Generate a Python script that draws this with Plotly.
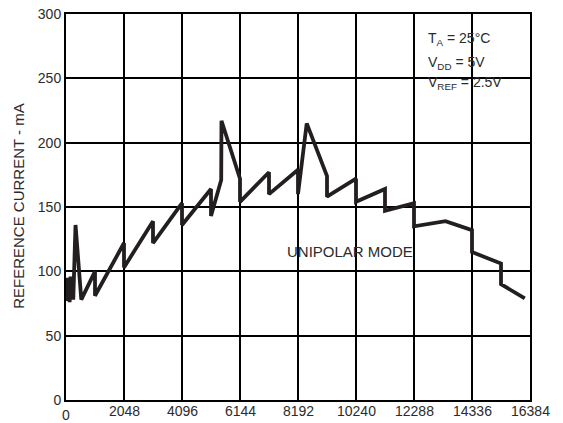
import plotly.graph_objects as go

# Digital input code (x) and reference current in mA (y)
codes = [0, 32, 64, 96, 128, 160, 192, 224, 256, 336, 540,
         1024, 1024, 2048, 2048, 3072, 3072, 4096, 4096, 5120, 5120,
         5480, 5490, 6144, 6144, 7168, 7168, 8192, 8192, 8500,
         9216, 9216, 10240, 10240, 11264, 11264, 12288, 12288,
         13400, 14336, 14336, 15360, 15360, 16200]
current_ma = [80, 95, 77, 94, 76, 96, 78, 95, 78, 136, 78,
              100, 81, 122, 103, 139, 122, 153, 136, 164, 143,
              171, 217, 172, 154, 177, 160, 179, 160, 215,
              174, 158, 172, 154, 164, 147, 153, 135,
              139, 132, 115, 106, 90, 79]

x_ticks = [0, 2048, 4096, 6144, 8192, 10240, 12288, 14336, 16384]
x_tick_labels = ["0", "2048", "4096", "6144", "8192", "10240", "12288", "14336", "16384"]
y_ticks = [0, 50, 100, 150, 200, 250, 300]

font_family = "Liberation Sans, Arial, sans-serif"
text_color = "#2b2b2b"

fig = go.Figure()
fig.add_trace(go.Scatter(
    x=codes, y=current_ma, mode="lines",
    line=dict(color="#231f20", width=3.8),
    showlegend=False, hoverinfo="skip",
))

fig.update_layout(
    width=563, height=423, autosize=False,
    margin=dict(l=66, r=33, t=14, b=23),
    paper_bgcolor="white", plot_bgcolor="white",
    font=dict(family=font_family, size=14, color=text_color),
    xaxis=dict(
        range=[0, 16384], tickvals=x_ticks,
        showgrid=True, gridcolor="black", gridwidth=2,
        showline=True, linecolor="black", linewidth=2, mirror=True,
        ticks="", zeroline=False, automargin=False, showticklabels=False,
    ),
    yaxis=dict(
        range=[0, 300], tickvals=y_ticks,
        showgrid=True, gridcolor="black", gridwidth=2,
        showline=True, linecolor="black", linewidth=2, mirror=True,
        ticks="", zeroline=False, automargin=False,
        tickfont=dict(size=14, color=text_color),
    ),
)

# x tick labels ("0" a bit lower than the others)
for val, lab in zip(x_ticks, x_tick_labels):
    fig.add_annotation(x=val, y=0, xref="x", yref="y", text=lab, showarrow=False,
                       xanchor="center", yanchor="middle",
                       yshift=-14.5 if val == 0 else -11,
                       font=dict(size=14, color=text_color))

fig.add_annotation(x=-0.1013, y=0.503, xref="paper", yref="paper", text="REFERENCE CURRENT - mA",
                   showarrow=False, textangle=-90, xanchor="center", yanchor="middle",
                   font=dict(size=15, color=text_color))

cond_lines = ["T<sub>A</sub> = 25°C", "V<sub>DD</sub> = 5V", "V<sub>REF</sub> = 2.5V"]
cond_y = [0.934, 0.874, 0.821]
for txt, yy in zip(cond_lines, cond_y):
    fig.add_annotation(x=0.776, y=yy, xref="paper", yref="paper", xanchor="left", yanchor="middle",
                       align="left", showarrow=False, text=txt,
                       font=dict(size=14, color=text_color))

fig.add_annotation(x=0.473, y=0.385, xref="paper", yref="paper", xanchor="left", yanchor="middle",
                   showarrow=False, text="UNIPOLAR MODE",
                   font=dict(size=15, color=text_color))

fig.write_html("out.html",
               config={"displayModeBar": False, "staticPlot": True},
               post_script="document.body.style.margin='0px';document.body.style.overflow='hidden';")
